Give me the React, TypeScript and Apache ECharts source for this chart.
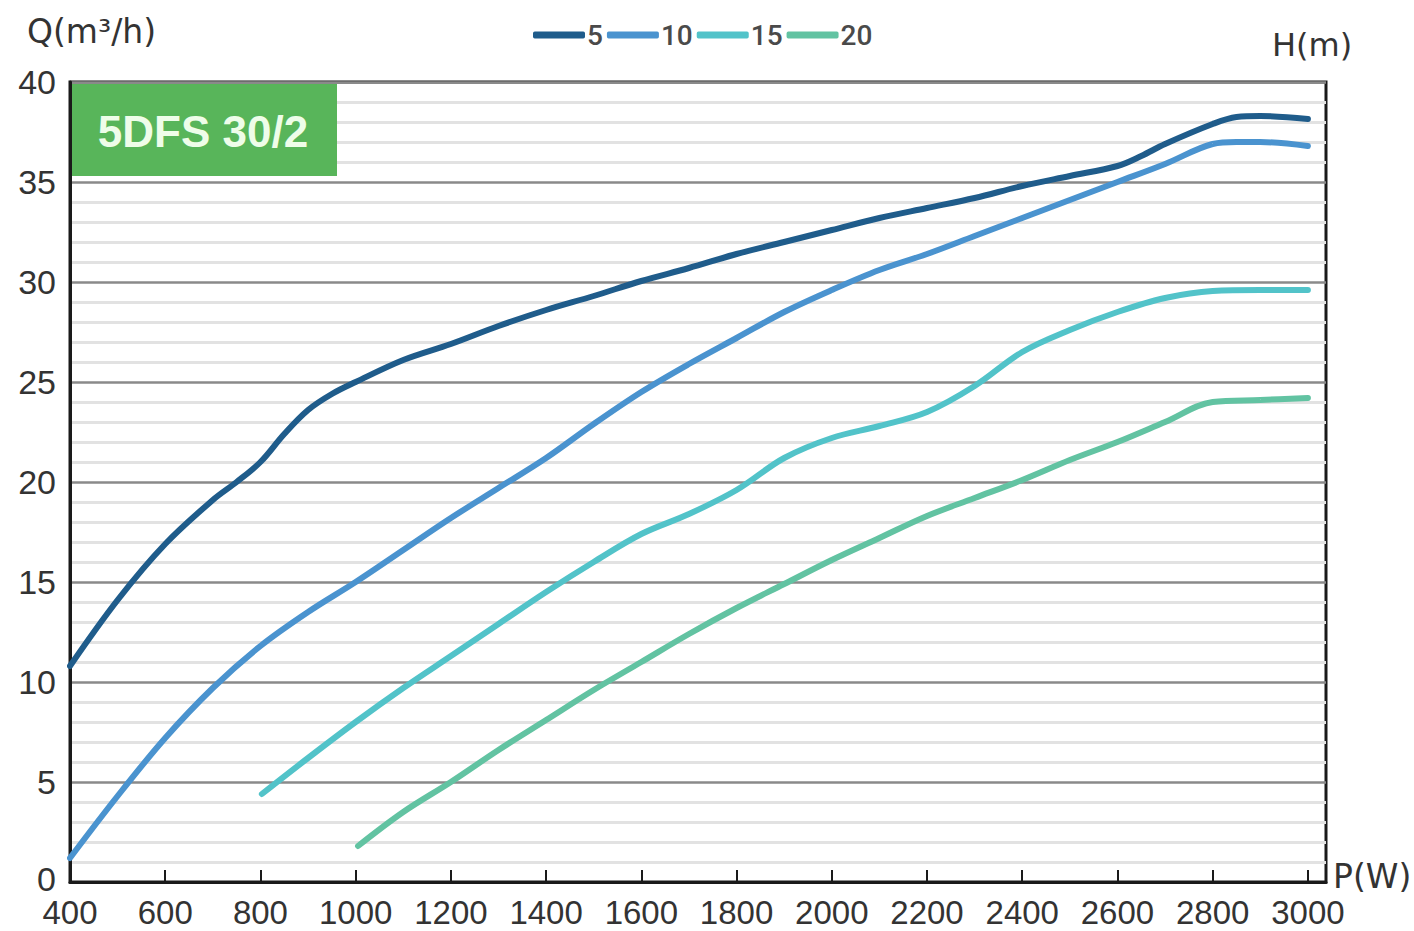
import React, { useEffect, useRef } from "react";
import * as echarts from "echarts";

const seriesNames = ["5", "10", "15", "20"];
const colors = ["#1f5c8b", "#4a93cf", "#52c3c9", "#62c3a2"];

const h5: [number, number][] = [
  [400, 10.8], [500, 14.1], [600, 16.9], [700, 19.1], [750, 20.0], [800, 21.0],
  [850, 22.4], [900, 23.6], [950, 24.4], [1000, 25.0], [1100, 26.1], [1200, 26.9],
  [1300, 27.8], [1400, 28.6], [1500, 29.3], [1600, 30.05], [1700, 30.7], [1800, 31.4],
  [1900, 32.0], [2000, 32.6], [2100, 33.2], [2200, 33.7], [2300, 34.2], [2400, 34.8],
  [2500, 35.3], [2600, 35.8], [2650, 36.3], [2700, 36.9], [2800, 37.9], [2850, 38.25],
  [2900, 38.3], [3000, 38.15],
];
const h10: [number, number][] = [
  [400, 1.2], [500, 4.3], [600, 7.2], [700, 9.7], [800, 11.8], [900, 13.5],
  [1000, 15.0], [1100, 16.6], [1200, 18.2], [1300, 19.7], [1400, 21.2], [1500, 22.9],
  [1600, 24.5], [1700, 25.9], [1800, 27.2], [1900, 28.5], [2000, 29.6], [2100, 30.6],
  [2200, 31.4], [2300, 32.3], [2400, 33.2], [2500, 34.1], [2600, 35.0], [2700, 35.9],
  [2800, 36.9], [2850, 37.0], [2900, 37.0], [3000, 36.8],
];
const h15: [number, number][] = [
  [803, 4.4], [900, 6.2], [1000, 8.0], [1100, 9.7], [1200, 11.3], [1300, 12.9],
  [1400, 14.5], [1500, 16.0], [1600, 17.4], [1700, 18.4], [1800, 19.6], [1900, 21.2],
  [2000, 22.2], [2100, 22.8], [2200, 23.5], [2300, 24.8], [2400, 26.5], [2500, 27.6],
  [2600, 28.5], [2700, 29.2], [2800, 29.55], [2900, 29.6], [3000, 29.6],
];
const h20: [number, number][] = [
  [1005, 1.8], [1100, 3.5], [1200, 5.0], [1300, 6.6], [1400, 8.1], [1500, 9.6],
  [1600, 11.0], [1700, 12.4], [1800, 13.7], [1900, 14.9], [2000, 16.1],
  [2100, 17.2], [2200, 18.3], [2300, 19.2], [2400, 20.1], [2500, 21.1],
  [2600, 22.0], [2700, 23.0], [2800, 24.0], [2900, 24.1], [3000, 24.2],
];
const seriesData = [h5, h10, h15, h20];

const xTicks = [400, 600, 800, 1000, 1200, 1400, 1600, 1800, 2000, 2200, 2400, 2600, 2800, 3000];
const yTicks = [0, 5, 10, 15, 20, 25, 30, 35, 40];

const FONT = "'Liberation Sans', Arial, sans-serif";
const NAME_FONT = "'DejaVu Sans', sans-serif";

export default function App() {
  const ref = useRef<HTMLDivElement>(null);
  useEffect(() => {
    if (!ref.current) return;
    const chart = echarts.init(ref.current, null, { renderer: "svg" });
    chart.setOption({
      animation: false,
      backgroundColor: "#ffffff",
      grid: {
        left: 70, top: 82, right: 88, bottom: 49,
        show: true, borderColor: "#1a1a1a", borderWidth: 3, backgroundColor: "transparent",
      },
      legend: {
        data: seriesNames,
        top: 16,
        left: 528,
        icon: "roundRect",
        itemWidth: 52,
        itemHeight: 7,
        itemGap: 4,
        textStyle: { fontSize: 28, color: "#4a4a4a", fontFamily: "Roboto, sans-serif", fontWeight: 500, padding: [0, 0, 0, -3] },
      },
      xAxis: {
        type: "value",
        min: 400,
        max: 3038,
        interval: 200,
        axisLine: { show: true, lineStyle: { color: "#1a1a1a", width: 3 } },
        axisTick: { show: true, inside: true, length: 12, lineStyle: { color: "#1a1a1a", width: 2 } },
        axisLabel: {
          fontSize: 33, lineHeight: 26, color: "#333", fontFamily: FONT, margin: 17,
          showMaxLabel: false,
          formatter: (v: number) => (xTicks.includes(v) ? String(v) : ""),
        },
        splitLine: { show: false },
      },
      yAxis: {
        type: "value",
        min: 0,
        max: 40,
        interval: 5,
        axisLine: { show: true, lineStyle: { color: "#1a1a1a", width: 3 } },
        axisTick: { show: false },
        axisLabel: {
          fontSize: 34, lineHeight: 26, color: "#333", fontFamily: FONT, margin: 14,
          formatter: (v: number) => (v === 0 ? "{z|0}" : yTicks.includes(v) ? String(v) : ""),
          rich: { z: { fontSize: 34, lineHeight: 26, color: "#333", fontFamily: FONT, padding: [0, 0, 7, 0] } },
        },
        splitLine: { show: true, lineStyle: { color: "#8a8a8a", width: 2.5 } },
        minorTick: { show: false, splitNumber: 5 },
        minorSplitLine: { show: true, lineStyle: { color: "#e2e2e2", width: 3 } },
      },
      series: seriesNames.map((name, i) => ({
        name,
        type: "line",
        data: seriesData[i],
        smooth: 0.35,
        showSymbol: false,
        symbol: "none",
        itemStyle: { color: colors[i] },
        lineStyle: { color: colors[i], width: 6, cap: "round" },
        z: 3,
      })),
      graphic: [
        {
          type: "rect",
          left: 72, top: 84,
          shape: { width: 265, height: 92 },
          style: { fill: "#58b55a" },
          z: 10,
        },
        {
          type: "text",
          x: 203, y: 131,
          style: {
            text: "5DFS 30/2", fill: "#eefde9", fontSize: 44, fontWeight: "bold",
            fontFamily: FONT, align: "center", verticalAlign: "middle",
          },
          z: 11,
        },
        {
          type: "text", x: 27, y: 31,
          style: { text: "Q(m³/h)", fill: "#333", fontSize: 33, fontFamily: NAME_FONT, verticalAlign: "middle" },
        },
        {
          type: "text", x: 1272, y: 45,
          style: { text: "H(m)", fill: "#333", fontSize: 32, fontFamily: NAME_FONT, verticalAlign: "middle" },
        },
        {
          type: "text", x: 1333, y: 876,
          style: { text: "P(W)", fill: "#333", fontSize: 33, fontFamily: NAME_FONT, verticalAlign: "middle" },
        },
      ],
    });
    return () => chart.dispose();
  }, []);
  return (
    <div
      ref={ref}
      style={{ position: "fixed", left: 0, top: 0, width: 1414, height: 931 }}
    />
  );
}
